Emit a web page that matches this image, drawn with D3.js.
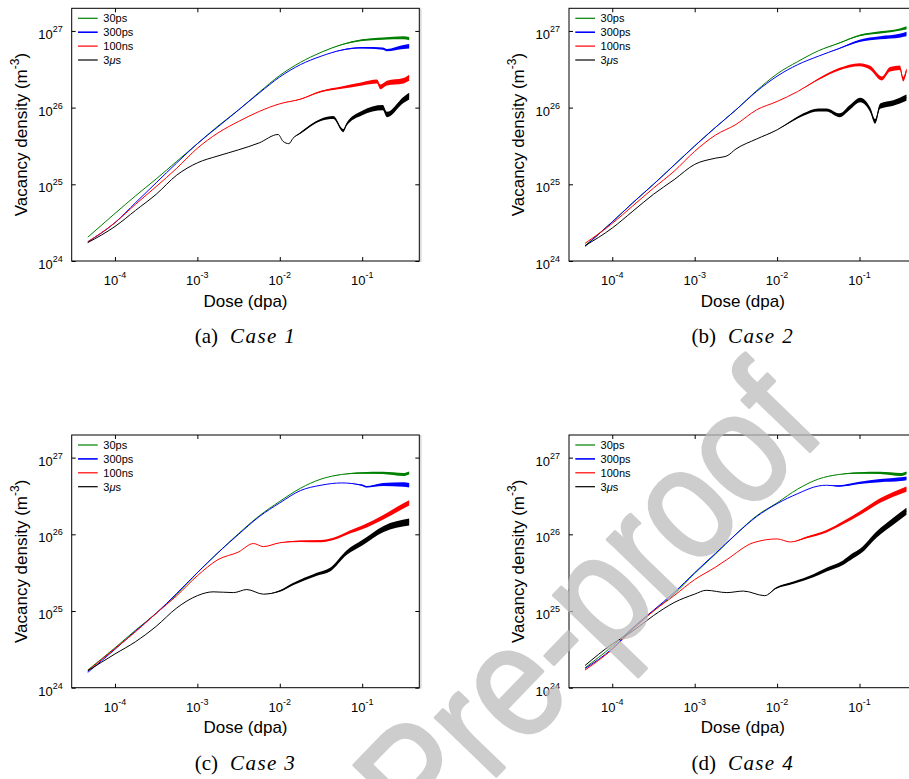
<!DOCTYPE html>
<html>
<head>
<meta charset="utf-8">
<script src="https://cdn.jsdelivr.net/npm/d3@7"></script>
<style>
  body { margin: 0; background: #fff; }
  svg { display: block; }
</style>
</head>
<body>
<div id="chart"></div>
<script>
// legend entries, in drawing order
const seriesNames = ['30ps', '300ps', '100ns', '3μs']
const seriesColors = ['#008000', '#0000ff', '#ff0000', '#000000']
const xTickExps = [-4, -3, -2, -1]
const yTickExps = [24, 25, 26, 27]
const captionLabels = ['(a)', '(b)', '(c)', '(d)']
const caseNames = ['Case 1', 'Case 2', 'Case 3', 'Case 4']

// [log10 dose, log10 density, noise half-width in decades]
const case1Green = [[-4.33, 24.31], [-4, 24.62], [-3.75, 24.85], [-3.5, 25.07], [-3.25, 25.30], [-3, 25.53], [-2.75, 25.76], [-2.5, 25.97], [-2.25, 26.20], [-2, 26.42], [-1.75, 26.59], [-1.5, 26.72], [-1.25, 26.82, 0.005], [-1, 26.88, 0.01], [-0.75, 26.90, 0.015], [-0.5, 26.91, 0.02], [-0.43, 26.90, 0.02]]
const case1Blue = [[-4.33, 24.25], [-4, 24.50], [-3.75, 24.76], [-3.5, 25.02], [-3.25, 25.28], [-3, 25.53], [-2.75, 25.75], [-2.5, 25.97], [-2.25, 26.19], [-2, 26.40], [-1.75, 26.56], [-1.5, 26.67], [-1.25, 26.75, 0.005], [-1, 26.78, 0.01], [-0.75, 26.77, 0.015], [-0.7, 26.75, 0.015], [-0.5, 26.79, 0.025], [-0.43, 26.80, 0.03]]
const case1Red = [[-4.33, 24.25], [-4, 24.50], [-3.75, 24.74], [-3.5, 24.97], [-3.25, 25.21], [-3, 25.47], [-2.75, 25.67], [-2.5, 25.82], [-2.25, 25.95], [-2, 26.05], [-1.75, 26.11, 0.005], [-1.5, 26.21, 0.01], [-1.25, 26.26, 0.015], [-1, 26.31, 0.02], [-0.82, 26.34, 0.025], [-0.78, 26.27, 0.03], [-0.7, 26.32, 0.03], [-0.5, 26.35, 0.035], [-0.43, 26.39, 0.04]]
const case1Black = [[-4.33, 24.24], [-4, 24.45], [-3.75, 24.66], [-3.5, 24.87], [-3.25, 25.12], [-3, 25.28], [-2.75, 25.37], [-2.5, 25.45], [-2.25, 25.54], [-2.02, 25.65], [-1.96, 25.56], [-1.89, 25.53], [-1.84, 25.60], [-1.75, 25.67, 0.01], [-1.5, 25.84, 0.015], [-1.35, 25.87, 0.02], [-1.23, 25.70, 0.02], [-1.19, 25.78, 0.02], [-1, 25.93, 0.03], [-0.75, 26.00, 0.035], [-0.7, 25.91, 0.035], [-0.5, 26.10, 0.04], [-0.43, 26.15, 0.045]]

const case2Green = [[-4.33, 24.20], [-4, 24.51], [-3.75, 24.76], [-3.5, 25.00], [-3.25, 25.25], [-3, 25.50], [-2.75, 25.74], [-2.5, 25.97], [-2.25, 26.22], [-2, 26.44], [-1.75, 26.60], [-1.5, 26.74], [-1.25, 26.84, 0.005], [-1, 26.94, 0.01], [-0.75, 26.98, 0.015], [-0.5, 27.02, 0.015], [-0.43, 27.04, 0.02]]
const case2Blue = [[-4.33, 24.19], [-4, 24.51], [-3.75, 24.76], [-3.5, 25.00], [-3.25, 25.25], [-3, 25.50], [-2.75, 25.74], [-2.5, 25.97], [-2.25, 26.21], [-2, 26.41], [-1.75, 26.56], [-1.5, 26.67], [-1.25, 26.77, 0.005], [-1, 26.87, 0.015], [-0.75, 26.91, 0.02], [-0.5, 26.94, 0.025], [-0.43, 26.96, 0.03]]
const case2Red = [[-4.33, 24.23], [-4, 24.49], [-3.75, 24.72], [-3.5, 24.95], [-3.25, 25.17], [-3, 25.43], [-2.75, 25.64], [-2.5, 25.78], [-2.25, 25.97], [-2, 26.08], [-1.75, 26.21], [-1.5, 26.37, 0.01], [-1.25, 26.50, 0.015], [-1, 26.56, 0.02], [-0.87, 26.52, 0.025], [-0.73, 26.38, 0.025], [-0.63, 26.50, 0.03], [-0.51, 26.52, 0.03], [-0.47, 26.37, 0.03], [-0.43, 26.49, 0.03]]
const case2Black = [[-4.33, 24.20], [-4, 24.43], [-3.75, 24.65], [-3.5, 24.87], [-3.25, 25.06], [-3, 25.26], [-2.75, 25.34], [-2.61, 25.37], [-2.5, 25.46], [-2.25, 25.59], [-2, 25.71], [-1.8, 25.84, 0.01], [-1.68, 25.91, 0.015], [-1.5, 25.97, 0.02], [-1.4, 25.97, 0.02], [-1.24, 25.90, 0.025], [-1.12, 26.00, 0.03], [-0.99, 26.10, 0.03], [-0.87, 25.97, 0.03], [-0.81, 25.82, 0.03], [-0.75, 26.02, 0.035], [-0.59, 26.06, 0.035], [-0.43, 26.13, 0.04]]

const case3Green = [[-4.33, 24.23], [-4, 24.52], [-3.75, 24.75], [-3.5, 24.97], [-3.25, 25.22], [-3, 25.50], [-2.75, 25.76], [-2.5, 26.01], [-2.25, 26.24], [-2, 26.43], [-1.75, 26.60], [-1.5, 26.72], [-1.25, 26.78], [-1, 26.80, 0.01], [-0.75, 26.80, 0.015], [-0.5, 26.78, 0.02], [-0.43, 26.80, 0.02]]
const case3Blue = [[-4.33, 24.20], [-4, 24.50], [-3.75, 24.74], [-3.5, 24.97], [-3.25, 25.23], [-3, 25.50], [-2.75, 25.76], [-2.5, 26.00], [-2.25, 26.23], [-2, 26.41], [-1.75, 26.57], [-1.5, 26.64], [-1.25, 26.67], [-1, 26.64, 0.01], [-0.95, 26.62, 0.01], [-0.75, 26.65, 0.02], [-0.5, 26.65, 0.03], [-0.43, 26.64, 0.03]]
const case3Red = [[-4.33, 24.22], [-4, 24.51], [-3.75, 24.73], [-3.5, 24.97], [-3.25, 25.20], [-3, 25.46], [-2.75, 25.67], [-2.5, 25.77], [-2.32, 25.88], [-2.2, 25.84], [-2, 25.89], [-1.75, 25.91, 0.01], [-1.5, 25.91, 0.015], [-1.35, 25.94, 0.015], [-1.15, 26.03, 0.02], [-1, 26.09, 0.025], [-0.75, 26.22, 0.03], [-0.5, 26.37, 0.035], [-0.43, 26.41, 0.035]]
const case3Black = [[-4.33, 24.22], [-4, 24.44], [-3.75, 24.60], [-3.5, 24.80], [-3.25, 25.04], [-3, 25.20], [-2.81, 25.25], [-2.56, 25.24], [-2.4, 25.28], [-2.2, 25.22], [-2, 25.26, 0.01], [-1.84, 25.35, 0.015], [-1.55, 25.48, 0.02], [-1.39, 25.54, 0.025], [-1.19, 25.76, 0.03], [-1, 25.89, 0.035], [-0.74, 26.07, 0.04], [-0.43, 26.16, 0.045]]

const case4Green = [[-4.33, 24.26], [-4, 24.54], [-3.75, 24.78], [-3.5, 25.00], [-3.25, 25.22], [-3, 25.49], [-2.75, 25.74], [-2.5, 26.00], [-2.25, 26.24], [-2, 26.41], [-1.75, 26.59], [-1.5, 26.72], [-1.25, 26.78], [-1, 26.80, 0.01], [-0.75, 26.80, 0.015], [-0.5, 26.78, 0.02], [-0.43, 26.80, 0.02]]
const case4Blue = [[-4.33, 24.25], [-4, 24.51], [-3.75, 24.78], [-3.5, 25.01], [-3.25, 25.24], [-3, 25.50], [-2.75, 25.75], [-2.5, 26.00], [-2.25, 26.23], [-2, 26.40], [-1.75, 26.53], [-1.5, 26.63], [-1.4, 26.64], [-1.25, 26.63, 0.01], [-1, 26.67, 0.015], [-0.75, 26.70, 0.02], [-0.5, 26.72, 0.025], [-0.43, 26.73, 0.025]]
const case4Red = [[-4.33, 24.23], [-4, 24.50], [-3.75, 24.76], [-3.5, 25.00], [-3.25, 25.20], [-3, 25.41], [-2.75, 25.57], [-2.61, 25.67], [-2.29, 25.89], [-2, 25.94], [-1.84, 25.90], [-1.64, 25.96, 0.01], [-1.4, 26.04, 0.015], [-1.2, 26.15, 0.02], [-0.99, 26.28, 0.025], [-0.75, 26.44, 0.03], [-0.43, 26.59, 0.035]]
const case4Black = [[-4.33, 24.29], [-4, 24.57], [-3.75, 24.74], [-3.5, 24.94], [-3.25, 25.11], [-3, 25.22], [-2.86, 25.27], [-2.61, 25.24], [-2.41, 25.26], [-2.15, 25.20], [-2.01, 25.30, 0.01], [-1.8, 25.37, 0.015], [-1.56, 25.46, 0.02], [-1.4, 25.54, 0.025], [-1.2, 25.63, 0.03], [-1.08, 25.72, 0.035], [-0.99, 25.78, 0.035], [-0.79, 26.00, 0.04], [-0.59, 26.17, 0.045], [-0.43, 26.30, 0.045]]

const panelSeries = [
  [case1Green, case1Blue, case1Red, case1Black],
  [case2Green, case2Blue, case2Red, case2Black],
  [case3Green, case3Blue, case3Red, case3Black],
  [case4Green, case4Blue, case4Red, case4Black]
]

const width = 909
const height = 779
const plotW = 347.6
const plotH = 252.7
const origins = [[71.7, 8.3], [569, 8.3], [71.7, 435], [569, 435]]
const font = "'Liberation Sans', Arial, Helvetica, sans-serif"
const serif = "'Liberation Serif', 'Times New Roman', serif"

const svg = d3.select('#chart')
  .append('svg')
  .attr('width', width)
  .attr('height', height)
  .style('background-color', '#FFF')

const x = d3.scaleLog()
  .domain([10 ** -4.525, 10 ** -0.307])
  .range([0, plotW])

const y = d3.scaleLog()
  .domain([1e24, 10 ** 27.295])
  .range([plotH, 0])

const line = d3.line()
  .curve(d3.curveMonotoneX)
  .x(d => x(10 ** d[0]))
  .y(d => y(10 ** d[1]))

const band = d3.area()
  .curve(d3.curveMonotoneX)
  .x(d => x(10 ** d[0]))
  .y0(d => y(10 ** (d[1] - (d[2] || 0))))
  .y1(d => y(10 ** (d[1] + (d[2] || 0))))

panelSeries.forEach((series, p) => {
  const [ox, oy] = origins[p]
  const g = svg.append('g')
    .attr('transform', `translate(${ox}, ${oy})`)
    .attr('font-family', font)

  series.forEach((data, i) => {
    g.append('path')
      .datum(data)
      .attr('fill', seriesColors[i])
      .attr('d', band)
    g.append('path')
      .datum(data)
      .attr('fill', 'none')
      .attr('stroke', seriesColors[i])
      .attr('stroke-width', 1)
      .attr('stroke-linejoin', 'round')
      .attr('d', line)
  })

  // ticks point inward on all four sides
  const xVals = xTickExps.map(e => 10 ** e)
  const yVals = yTickExps.map(e => 10 ** e)
  const axes = [
    [d3.axisBottom(x).tickValues(xVals), `translate(0, ${plotH})`],
    [d3.axisTop(x).tickValues(xVals), 'translate(0, 0)'],
    [d3.axisLeft(y).tickValues(yVals), 'translate(0, 0)'],
    [d3.axisRight(y).tickValues(yVals), `translate(${plotW}, 0)`]
  ]
  for (const [axis, tr] of axes) {
    const a = g.append('g')
      .attr('transform', tr)
      .call(axis.tickSizeInner(-4).tickSizeOuter(0).tickFormat(''))
    a.select('.domain').remove()
    a.selectAll('line').attr('stroke', '#000').attr('stroke-width', 1)
  }

  g.append('rect')
    .attr('width', plotW)
    .attr('height', plotH)
    .attr('fill', 'none')
    .attr('stroke', '#000')
    .attr('stroke-width', 1)

  g.append('line')
    .attr('x1', plotW + 1.6).attr('x2', plotW + 1.6)
    .attr('y1', 0).attr('y2', plotH + 1)
    .attr('stroke', '#c4c4c4')
    .attr('stroke-width', 1)

  // tick labels
  xTickExps.forEach(e => {
    const t = g.append('text')
      .attr('x', x(10 ** e))
      .attr('y', plotH + 24)
      .attr('text-anchor', 'middle')
      .attr('font-size', 13)
    t.append('tspan').text('10')
    t.append('tspan').attr('font-size', 9).attr('dy', -7).text(e)
  })
  yTickExps.forEach(e => {
    const t = g.append('text')
      .attr('x', -9)
      .attr('y', y(10 ** e) + 8)
      .attr('text-anchor', 'end')
      .attr('font-size', 13)
    t.append('tspan').text('10')
    t.append('tspan').attr('font-size', 9).attr('dy', -7).text(e)
  })

  // axis titles
  g.append('text')
    .attr('x', plotW / 2)
    .attr('y', plotH + 45.7)
    .attr('text-anchor', 'middle')
    .attr('font-size', 17)
    .text('Dose (dpa)')

  const yt = g.append('text')
    .attr('transform', `translate(-45, ${plotH / 2}) rotate(-90)`)
    .attr('text-anchor', 'middle')
    .attr('font-size', 17)
  yt.append('tspan').text('Vacancy density (m')
  yt.append('tspan').attr('font-size', 12).attr('dy', -8).text('-3')
  yt.append('tspan').attr('dy', 8).text(')')

  // legend
  seriesNames.forEach((name, i) => {
    const ly = 10 + i * 13.9
    g.append('line')
      .attr('x1', 6.3).attr('x2', 26)
      .attr('y1', ly).attr('y2', ly)
      .attr('stroke', seriesColors[i])
      .attr('stroke-width', i === 1 ? 1.6 : 1.2)
    const t = g.append('text')
      .attr('x', 31.6)
      .attr('y', ly + 4)
      .attr('font-size', 11)
    if (name.includes('μ')) {
      t.append('tspan').text('3')
      t.append('tspan').attr('font-style', 'italic').text('μ')
      t.append('tspan').text('s')
    } else {
      t.text(name)
    }
  })

  // sub-figure caption
  const c = g.append('text')
    .attr('x', plotW / 2)
    .attr('y', 335)
    .attr('text-anchor', 'middle')
    .attr('font-family', serif)
    .attr('font-size', 21)
  c.append('tspan').text(captionLabels[p])
  c.append('tspan').attr('dx', 12).attr('font-style', 'italic').attr('letter-spacing', 1.4).text(caseNames[p])
})

// preprint watermark laid over the figure
svg.append('text')
  .attr('transform', 'translate(425, 850) rotate(-46) scale(0.87, 1)')
  .attr('font-family', font)
  .attr('font-size', 160)
  .attr('fill', '#bdbdbd')
  .attr('stroke', '#bdbdbd')
  .attr('stroke-width', 3)
  .attr('stroke-linejoin', 'round')
  .attr('opacity', 0.75)
  .text('Pre-proof')
</script>
</body>
</html>
